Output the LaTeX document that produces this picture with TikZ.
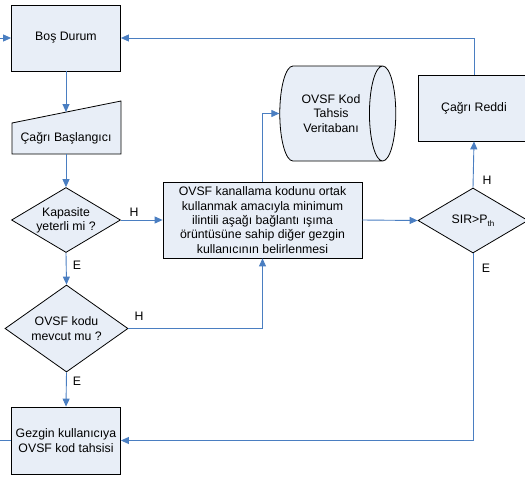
\documentclass[tikz,border=0pt]{standalone}
\usepackage{fontspec}
\setmainfont{Liberation Sans}
\usetikzlibrary{shapes.geometric,arrows.meta}
\definecolor{kutumavi}{RGB}{232,238,247}
\definecolor{okmavi}{RGB}{74,126,193}

\begin{document}
\begin{tikzpicture}[x=1pt,y=-1pt]
	\useasboundingbox (0,0) rectangle (525,477);
	\tikzstyle{every node}=[font=\fontsize{12.3}{14.3}\selectfont,inner sep=0pt,align=center]
	\tikzstyle{kutu}=[draw=black,fill=kutumavi,line width=0.8pt,minimum width=109pt,minimum height=66pt]
	\tikzstyle{karar}=[diamond,draw=black,fill=kutumavi,line width=0.8pt,aspect=1.7]
	\tikzstyle{baglanti}=[draw=okmavi,line width=0.9pt,-{Triangle[length=8pt,width=7pt]}]
	\filldraw[fill=kutumavi,line width=0.8pt] (12,154) -- (121,154) -- (121,101) -- (12,123) -- cycle;
	\path (66,38) node[kutu] (bos) {Boş Durum};
	\path (66,138) node[minimum width=109pt,minimum height=32pt] (basla) {Çağrı Başlangıcı};
	\path (66,220) node[karar,minimum width=109pt,minimum height=65pt] (kap) {Kapasite\\yeterli mi ?};
	\path (66.5,328.5) node[karar,minimum width=123pt,minimum height=87pt] (mevcut) {OVSF kodu\\mevcut mu ?};
	\path (66,440.5) node[kutu,minimum height=67pt] (gezgin) {Gezgin kullanıcıya\\OVSF kod tahsisi};
	\path (262.5,220) node[kutu,minimum width=199pt,minimum height=76pt] (ortak) {OVSF kanallama kodunu ortak\\kullanmak amacıyla minimum\\ilintili aşağı bağlantı ışıma\\örüntüsüne sahip diğer gezgin\\kullanıcının belirlenmesi};
	\path (331,113.5) node[cylinder,draw=black,fill=kutumavi,line width=0.8pt,aspect=0.7,minimum width=95pt,minimum height=116pt] (veri) {OVSF Kod\\Tahsis\\Veritabanı};
	\path (474,108) node[kutu,minimum width=112pt] (red) {Çağrı Reddi};
	\path (473,220.5) node[karar,minimum width=110pt,minimum height=65pt] (sir) {SIR>P\raisebox{-0.4ex}{\fontsize{8}{8}\selectfont th}};
	\coordinate (basla-ust) at (66,112);
	\coordinate (sol) at (-6,0);
	\path (134,212) node (h1) {H};
	\path (77,265) node (e1) {E};
	\path (139,316) node (h2) {H};
	\path (77,381) node (e2) {E};
	\path (487,180) node (h3) {H};
	\path (486,268) node (e3) {E};
	\draw[baglanti] (gezgin.west) -- (gezgin.west -| sol) |- (bos.west);
	\draw[baglanti] (bos.south) -- (basla-ust);
	\draw[baglanti] (basla.south) -- (kap.north);
	\draw[baglanti] (kap.east) -- (ortak.west);
	\draw[baglanti] (kap.south) -- (mevcut.north);
	\draw[baglanti] (mevcut.east) -| (ortak.south);
	\draw[baglanti] (mevcut.south) -- (gezgin.north);
	\draw[baglanti] (ortak.north) |- (veri.west);
	\draw[baglanti] (ortak.east) -- (sir.west);
	\draw[baglanti] (sir.north) -- (red.south);
	\draw[baglanti] (sir.south) |- (gezgin.east);
	\draw[baglanti] (red.north) |- (bos.east);
\end{tikzpicture}
\end{document}
